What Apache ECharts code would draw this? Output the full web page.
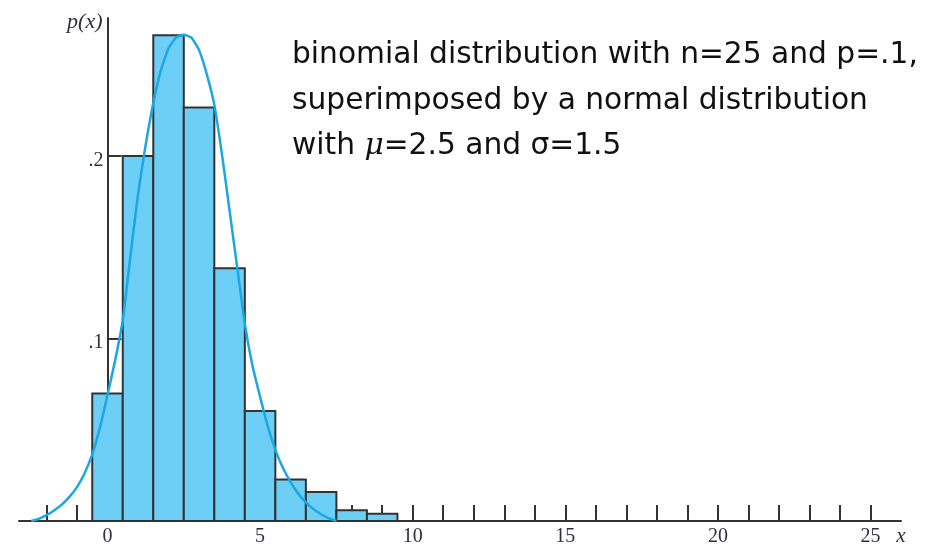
<!DOCTYPE html>
<html><head><meta charset="utf-8">
<script src="https://cdn.jsdelivr.net/npm/echarts@6/dist/echarts.min.js"></script>
<style>html,body{margin:0;padding:0;background:#fff}#c{width:926px;height:546px}</style>
</head><body><div id="c"></div>
<script>
// binomial outcomes and probabilities
const outcomes = [0, 1, 2, 3, 4, 5, 6, 7, 8, 9];
const binomProb = [0.0699, 0.2000, 0.2662, 0.2266, 0.1385, 0.0603, 0.0227, 0.0159, 0.0059, 0.0040];
// superimposed normal curve
const curveX = [-2.5, -2.25, -2.0, -1.75, -1.5, -1.25, -1.0, -0.75, -0.5, -0.25,
  0, 0.25, 0.5, 0.75, 1.0, 1.25, 1.5, 1.75, 2.0, 2.25,
  2.5, 2.75, 3.0, 3.25, 3.5, 3.75, 4.0, 4.25, 4.5, 4.75,
  5.0, 5.25, 5.5, 5.75, 6.0, 6.25, 6.5, 6.75, 7.0, 7.25, 7.5];
const curveY = [0.000, 0.0012, 0.0032, 0.0058, 0.0090, 0.0132, 0.0186, 0.0262, 0.0365, 0.051,
  0.069, 0.088, 0.110, 0.145, 0.179, 0.206, 0.229, 0.247, 0.259, 0.265,
  0.2664, 0.2648, 0.258, 0.245, 0.228, 0.201, 0.170, 0.139, 0.108, 0.085,
  0.068, 0.052, 0.039, 0.029, 0.0213, 0.0150, 0.0102, 0.0065, 0.0037, 0.0014, 0.000];
// axis ticks and labels
const xTicks = [-2, -1, 0, 1, 2, 3, 4, 5, 6, 7, 8, 9, 10, 11, 12, 13, 14, 15, 16, 17, 18, 19, 20, 21, 22, 23, 24, 25];
const xTickLabels = [0, 5, 10, 15, 20, 25];
const yTicks = [0.1, 0.2];
const yTickLabels = ['.1', '.2'];
const annotation = 'binomial distribution with n=25 and p=.1,\nsuperimposed by a normal distribution\nwith {i|\u03bc}=2.5 and \u03c3=1.5';

const chart = echarts.init(document.getElementById('c'), null, {renderer: 'canvas'});
const axisColor = '#333';
const labelColor = '#2f2d3f';
const gridLeft = 19;
chart.setOption({
  animation: false,
  backgroundColor: '#fff',
  title: {
    text: annotation,
    left: 292, top: 33, padding: 0,
    textStyle: {
      fontFamily: 'DejaVu Sans', fontSize: 29.7, fontWeight: 'normal', color: '#111', lineHeight: 45.5,
      rich: { i: { fontFamily: 'DejaVu Serif', fontStyle: 'italic', fontSize: 29.7, color: '#111', lineHeight: 45.5 } }
    }
  },
  grid: { left: gridLeft, right: 25, top: 18, bottom: 25, outerBoundsMode: 'none', containLabel: false },
  xAxis: {
    type: 'value', min: -2.9, max: 26,
    name: 'x', nameLocation: 'end', nameGap: 0,
    nameTextStyle: { fontFamily: 'Liberation Serif', fontStyle: 'italic', fontSize: 21, color: labelColor, align: 'center', verticalAlign: 'top', padding: [5, 0, 0, 0] },
    splitLine: { show: false },
    axisLine: { onZero: true, lineStyle: { color: axisColor, width: 2 } },
    axisTick: { show: true, inside: true, length: 16, customValues: xTicks, lineStyle: { color: axisColor, width: 2 } },
    axisLabel: { customValues: xTickLabels, margin: 6, fontFamily: 'Liberation Serif', fontSize: 20, color: labelColor }
  },
  yAxis: {
    type: 'value', min: 0, max: 0.2756,
    name: 'p(x)', nameLocation: 'end', nameGap: 0,
    nameTextStyle: { fontFamily: 'Liberation Serif', fontStyle: 'italic', fontSize: 22, color: labelColor, align: 'right', verticalAlign: 'top', lineHeight: 8, padding: [0, 5, 0, 0] },
    splitLine: { show: false },
    axisLine: { show: true, onZero: false, lineStyle: { color: axisColor, width: 2 } },
    axisTick: { show: true, inside: true, length: 14, customValues: yTicks, lineStyle: { color: axisColor, width: 2 } },
    axisLabel: {
      customValues: yTicks, margin: 4, fontFamily: 'Liberation Serif', fontSize: 20, color: labelColor,
      verticalAlign: 'top', lineHeight: 9,
      formatter: function (v) { const k = yTicks.findIndex(t => Math.abs(t - v) < 1e-9); return k >= 0 ? yTickLabels[k] : ''; }
    }
  },
  series: [
    {
      type: 'custom',
      data: outcomes.map((o, i) => [o, binomProb[i]]),
      encode: { x: 0, y: 1 },
      z: 2,
      renderItem: function (params, api) {
        const x = api.value(0), y = api.value(1);
        const p0 = api.coord([x - 0.5, y]);
        const p1 = api.coord([x + 0.5, 0]);
        return {
          type: 'rect',
          shape: { x: p0[0], y: p0[1], width: p1[0] - p0[0], height: p1[1] - p0[1] },
          style: { fill: '#6DCFF5', stroke: '#333', lineWidth: 2 }
        };
      }
    },
    {
      type: 'line',
      data: curveX.map((x, i) => [x, curveY[i]]),
      showSymbol: false, smooth: 0.15, z: 3,
      lineStyle: { color: '#1AA7E6', width: 2.5 }
    }
  ]
});
// place the y axis at x = 0 of the x axis
const x0 = chart.convertToPixel({ xAxisIndex: 0 }, 0);
chart.setOption({ yAxis: { offset: gridLeft - x0 } });
</script></body></html>
